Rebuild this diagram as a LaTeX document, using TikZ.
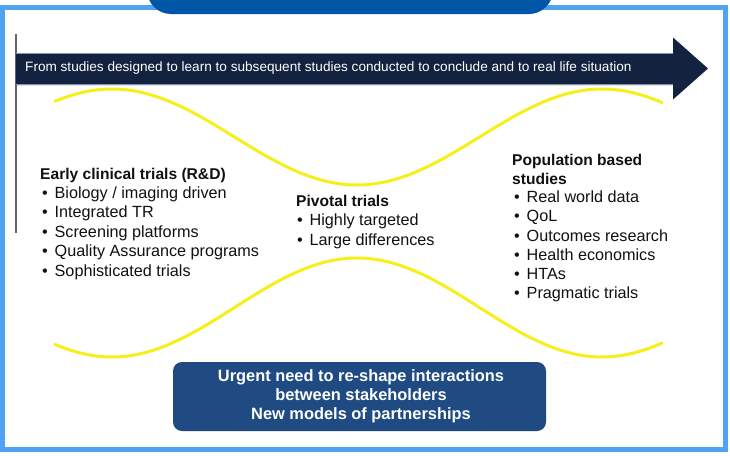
\documentclass[tikz,border=0pt]{standalone}
\usepackage{fontspec}
\setmainfont{Liberation Sans}
\definecolor{framec}{HTML}{4FA3F2}
\definecolor{tabc}{HTML}{0057A8}
\definecolor{arrowc}{HTML}{13223F}
\definecolor{edgec}{HTML}{8496B2}
\definecolor{boxc}{HTML}{1F4B82}
\definecolor{yel}{HTML}{F7EF1A}
\definecolor{txt}{HTML}{111111}
\tikzset{
  wave/.style={draw=yel, line width=3pt, line cap=round},
  head/.style={anchor=west, inner sep=0pt, text=txt, font=\fontsize{15.6}{19}\selectfont\bfseries, text height=11.5pt, text depth=3.5pt},
  item/.style={anchor=west, inner sep=0pt, text=txt, font=\fontsize{16.2}{19}\selectfont, text height=11.5pt, text depth=3.5pt},
  boxline/.style={inner sep=0pt, text=white, font=\fontsize{16.4}{19}\selectfont\bfseries, text height=11.5pt, text depth=3.5pt},
}
\newcommand{\bul}{\makebox[12.5pt][l]{\textbullet}}
\begin{document}
\begin{tikzpicture}[x=1pt,y=-1pt]
\useasboundingbox (0,0) rectangle (730,455);
\clip (0,0) rectangle (730,455);
\fill[white] (0,0) rectangle (730,455);
% frame
\draw[framec, line width=4.5pt] (2.25,7.5) rectangle (725.5,449.5);
% top tab
\fill[tabc, rounded corners=24pt] (147,-40) rectangle (553,14);
% vertical grey line
\coordinate (vt) at (16,34);
\coordinate (vb) at (16,233);
\draw[gray!80!black, line width=1.2pt] (vt) -- (vb);
% arrow
\fill[arrowc] (16,53) -- (673,53) -- (673,37.5) -- (708,68.5) -- (673,99.5) -- (673,85) -- (16,85) -- cycle;
\draw[edgec, line width=0.8pt] (16,53.4) -- (673,53.4);
\draw[edgec, line width=0.8pt] (16,84.6) -- (673,84.6);
\node[anchor=west, inner sep=0pt, text=white, font=\fontsize{13.6}{15}\selectfont] (arrtxt) at (25,67.5)
  {From studies designed to learn to subsequent studies conducted to conclude and to real life situation};
% yellow waves
\draw[wave] plot[domain=55:662, samples=150, smooth] (\x, {137-48*cos(0.73469*(\x-112))});
\draw[wave] plot[domain=55:662, samples=150, smooth] (\x, {307.5+49.5*cos(0.73469*(\x-112))});
% left block
\node[head] (lh) at (40,175) {Early clinical trials (R\&D)};
\foreach \t [count=\i] in {Biology / imaging driven, Integrated TR, Screening platforms, Quality Assurance programs, Sophisticated trials}
  \node[item] (l\i) at (42,{175+19.4*\i}) {\bul\t};
% pivotal block
\node[head] (ph) at (296,202) {Pivotal trials};
\foreach \t [count=\i] in {Highly targeted, Large differences}
  \node[item] (p\i) at (297,{202+19.5*\i}) {\bul\t};
% right block
\node[head] (rh1) at (512,161) {Population based};
\node[head] (rh2) at (512,180) {studies};
\foreach \t [count=\i] in {Real world data, QoL, Outcomes research, Health economics, HTAs, Pragmatic trials}
  \node[item] (r\i) at (514,{179.5+19.2*\i}) {\bul\t};
% bottom box
\fill[boxc, rounded corners=9pt] (173,362) rectangle (546,431);
\node[boxline] (b1) at (361,377) {Urgent need to re-shape interactions};
\node[boxline] (b2) at (361,396) {between stakeholders};
\node[boxline] (b3) at (361,415) {New models of partnerships};
\end{tikzpicture}
\end{document}
